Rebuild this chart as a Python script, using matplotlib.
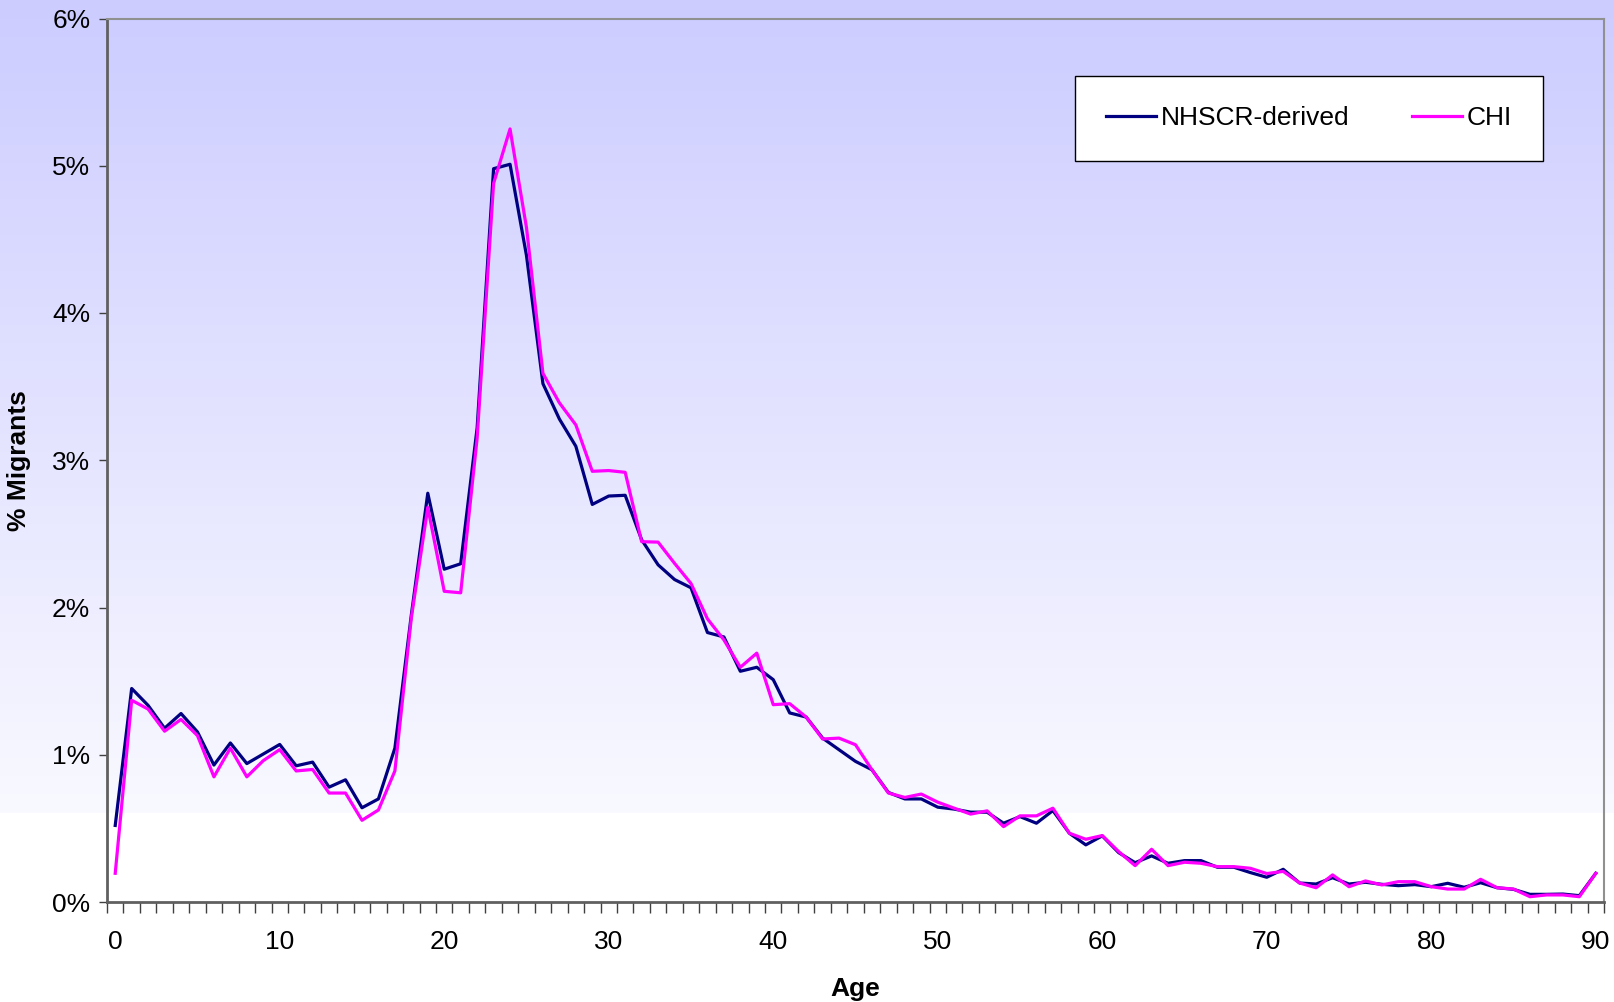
import numpy as np
import matplotlib
matplotlib.use("Agg")
import matplotlib.pyplot as plt
from matplotlib.ticker import FuncFormatter, MultipleLocator

plt.rcParams['font.family'] = ['Liberation Sans', 'DejaVu Sans']

ages = list(range(0, 91))

# % of migrants by single year of age
nhscr = [0.52, 1.45, 1.335, 1.18, 1.28, 1.155, 0.93, 1.08, 0.94, 1.005,
         1.07, 0.925, 0.95, 0.78, 0.83, 0.64, 0.70, 1.045, 1.95, 2.776,
         2.26, 2.297, 3.22, 4.98, 5.01, 4.39, 3.52, 3.28, 3.095, 2.70,
         2.757, 2.762, 2.46, 2.29, 2.19, 2.134, 1.83, 1.80, 1.567, 1.594,
         1.51, 1.284, 1.256, 1.113, 1.034, 0.955, 0.898, 0.744, 0.70, 0.70,
         0.644, 0.631, 0.61, 0.61, 0.535, 0.58, 0.535, 0.621, 0.467, 0.388,
         0.449, 0.335, 0.267, 0.313, 0.263, 0.281, 0.281, 0.236, 0.236, 0.20,
         0.168, 0.222, 0.129, 0.122, 0.165, 0.122, 0.134, 0.12, 0.111, 0.118,
         0.104, 0.127, 0.10, 0.131, 0.097, 0.086, 0.052, 0.052, 0.054, 0.043,
         0.195]
chi = [0.195, 1.37, 1.31, 1.16, 1.24, 1.13, 0.85, 1.045, 0.85, 0.96,
       1.035, 0.89, 0.90, 0.74, 0.74, 0.555, 0.625, 0.89, 1.93, 2.68,
       2.11, 2.10, 3.15, 4.88, 5.25, 4.58, 3.59, 3.39, 3.24, 2.925,
       2.93, 2.918, 2.447, 2.444, 2.30, 2.163, 1.923, 1.78, 1.594, 1.69,
       1.34, 1.347, 1.256, 1.107, 1.113, 1.068, 0.898, 0.74, 0.71, 0.733,
       0.678, 0.637, 0.597, 0.619, 0.512, 0.585, 0.585, 0.637, 0.467, 0.426,
       0.451, 0.342, 0.247, 0.358, 0.247, 0.27, 0.263, 0.24, 0.24, 0.229,
       0.193, 0.208, 0.129, 0.097, 0.184, 0.104, 0.143, 0.116, 0.138, 0.138,
       0.104, 0.088, 0.088, 0.154, 0.097, 0.088, 0.036, 0.048, 0.048, 0.036,
       0.195]

fig = plt.figure(figsize=(16.15, 10.02), dpi=100)

# background gradient (lavender -> near white, white band at bottom)
bg = fig.add_axes([0, 0, 1, 1], zorder=-10)
H = 1002
cut = 813
col = np.ones((H, 1, 3))
t = np.linspace(0, 1, cut)[:, None]
top = np.array([204, 204, 255]) / 255
bot = np.array([249, 249, 255]) / 255
col[:cut, 0, :] = top * (1 - t) + bot * t
bg.imshow(col, aspect='auto', extent=[0, 1, 0, 1])
bg.axis('off')

ax = fig.add_axes([107 / 1615, 1 - 902 / 1002, 1497 / 1615, 883.5 / 1002])
ax.set_facecolor('none')

ax.plot(ages, nhscr, color='#000080', lw=2.3, label='NHSCR-derived', zorder=3)
ax.plot(ages, chi, color='#FF00FF', lw=2.3, label='CHI', zorder=4)

ax.set_xlim(-0.5, 90.5)
ax.set_ylim(0, 6)
ax.yaxis.set_major_locator(MultipleLocator(1))
ax.yaxis.set_major_formatter(FuncFormatter(lambda v, p: '%d%%' % round(v)))
ax.set_xticks(range(0, 91, 10))
ax.set_xticks(np.arange(-0.5, 91, 1), minor=True)
ax.tick_params(axis='x', which='major', length=0, labelsize=19, pad=20)
ax.tick_params(axis='x', which='minor', length=8, width=1, color='#404040')
ax.tick_params(axis='y', which='major', length=6, width=1, color='#404040',
               labelsize=19, pad=6)

for s in ['top', 'right']:
    ax.spines[s].set_color('#909090')
    ax.spines[s].set_linewidth(1.5)
for s in ['left', 'bottom']:
    ax.spines[s].set_color('#606060')
    ax.spines[s].set_linewidth(2)

ax.set_xlabel('Age', fontsize=19, fontweight='bold', labelpad=17)
ax.set_ylabel('% Migrants', fontsize=19, fontweight='bold')
ax.yaxis.set_label_coords(-0.051, 0.5)

leg = ax.legend(loc='upper right', bbox_to_anchor=(0.959, 0.935),
                ncol=2, fontsize=19, frameon=True, fancybox=False,
                handlelength=1.9, handletextpad=0.2, columnspacing=2.35,
                borderpad=1.15, borderaxespad=0)
leg.get_frame().set_edgecolor('black')
leg.get_frame().set_facecolor('white')
leg.get_frame().set_linewidth(1)
leg.get_frame().set_alpha(1)

fig.savefig('out.png', dpi=100)
